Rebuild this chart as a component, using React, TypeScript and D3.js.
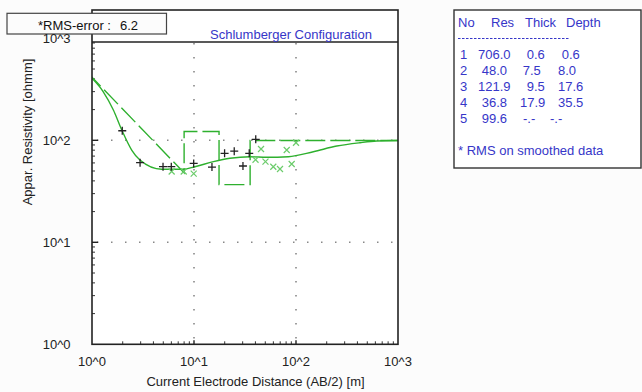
import * as d3 from "d3";

// layer model (from the table)
const layerNo = [1, 2, 3, 4, 5];
const layerRes = [706.0, 48.0, 121.9, 36.8, 99.6];
const layerThick = ["0.6", "7.5", "9.5", "17.9", "-.-"];
const layerDepthLabel = ["0.6", "8.0", "17.6", "35.5", "-.-"];
const layerDepth = [0.6, 8.0, 17.6, 35.5];

// model response curve (AB/2, rho)
const curveX = [1, 1.29, 1.62, 1.96, 2.45, 2.95, 4.82, 7.85, 10.2, 15.5, 22.5, 35.4, 51.6, 84.1, 148, 251, 424, 618, 1000];
const curveY = [405, 299, 198, 126, 80.3, 64.1, 52, 52, 55.1, 61.7, 66.6, 69.0, 68.1, 69.0, 77.3, 87.9, 94.7, 98.4, 99.6];

// observed data (+)
const obsX = [1.98, 2.96, 4.97, 5.99, 9.93, 15.0, 19.95, 24.8, 30.2, 34.8, 40.3];
const obsY = [124, 60.3, 55.1, 55.1, 59.3, 54.7, 74.6, 78.2, 56.0, 74.6, 102.3];

// smoothed data (x)
const smX = [6.04, 7.93, 9.93, 40.1, 45.4, 50.2, 59.9, 69.7, 81.1, 90.7, 100];
const smY = [49.4, 49.4, 47.1, 64.5, 82.2, 61.7, 55.1, 52.3, 80.3, 58.6, 94.7];

const decadeTicks = [1, 10, 100, 1000];
const tickLabels = ["10^0", "10^1", "10^2", "10^3"];

const W = 642;
const H = 392;
const FONT = "'Liberation Sans', Arial, sans-serif";
const FS = 13;
const BLUE = "#3636c8";
const GREEN = "#2eb02e";
const LIGHT_GREEN = "#6ccc6c";

export default function App() {
  const left = 92, right = 398, top = 42, bottom = 344.3;
  const x = d3.scaleLog().domain([1, 1000]).range([left, right]);
  const y = d3.scaleLog().domain([1, 1000]).range([bottom, 38.3]);

  const minors: number[] = [];
  for (let d = 0; d < 3; d++) for (let k = 2; k <= 9; k++) minors.push(k * Math.pow(10, d));

  const curvePts = curveX.map((v, i) => [v, curveY[i]] as [number, number]);
  const curvePath = d3
    .line<[number, number]>()
    .x((d) => x(d[0]))
    .y((d) => y(d[1]))
    .curve(d3.curveMonotoneX)(curvePts);

  // model line: diagonal from first layer into second, then steps
  const modelPts: [number, number][] = [
    [layerDepth[0], layerRes[0]],
    [layerDepth[1], layerRes[1]],
    [layerDepth[1], layerRes[2]],
    [layerDepth[2], layerRes[2]],
    [layerDepth[2], layerRes[3]],
    [layerDepth[3], layerRes[3]],
    [layerDepth[3], layerRes[4]],
    [1000, layerRes[4]],
  ];
  const modelPath = d3
    .line<[number, number]>()
    .x((d) => x(d[0]))
    .y((d) => y(d[1]))(modelPts);

  const rows = [54.3, 70.7, 86.7, 102.7, 118.3];
  const resX = [478, 481.7, 478, 481.7, 481.7];
  const thickX = [526.7, 522.7, 526.7, 520, 523];
  const depthX = [561.7, 558, 558, 558, 550];

  return (
    <svg
      width={W}
      height={H}
      style={{ position: "absolute", left: 0, top: 0, background: "#fcfcfc" }}
      fontFamily={FONT}
    >
      <defs>
        <clipPath id="plotClip">
          <rect x={left} y={top} width={right - left} height={bottom - top} />
        </clipPath>
      </defs>
      <rect x={left} y={10} width={right - left} height={bottom - 10} fill="#fff" />

      {/* dotted grid */}
      {[10, 100].map((v) => (
        <g key={"g" + v}>
          <line x1={x(v)} x2={x(v)} y1={top + 1} y2={bottom} stroke="#888" strokeWidth={1.6} strokeDasharray="1.5 12.5" />
          <line x1={left + 5} x2={right} y1={y(v)} y2={y(v)} stroke="#888" strokeWidth={1.6} strokeDasharray="1.5 12.5" />
        </g>
      ))}

      {/* ticks */}
      {minors.map((v) => (
        <g key={"m" + v} stroke="#333" strokeWidth={1}>
          {y(v) > top && <line x1={left} x2={left + 3} y1={y(v)} y2={y(v)} />}
          <line x1={x(v)} x2={x(v)} y1={bottom} y2={bottom - 3} />
        </g>
      ))}
      {[10, 100].map((v) => (
        <g key={"M" + v} stroke="#222" strokeWidth={1.4}>
          <line x1={left} x2={left + 6} y1={y(v)} y2={y(v)} />
          <line x1={x(v)} x2={x(v)} y1={bottom} y2={bottom - 4} />
        </g>
      ))}

      {/* data */}
      <g clipPath="url(#plotClip)">
        <path d={modelPath ?? ""} fill="none" stroke={GREEN} strokeWidth={1.4} strokeDasharray="20 5" />
        <path d={curvePath ?? ""} fill="none" stroke={GREEN} strokeWidth={1.4} />
        {smX.map((v, i) => (
          <path
            key={"s" + i}
            transform={`translate(${x(v)},${y(smY[i])})`}
            d="M-3,-3L3,3M-3,3L3,-3"
            stroke={LIGHT_GREEN}
            strokeWidth={1.2}
          />
        ))}
        {obsX.map((v, i) => (
          <path
            key={"o" + i}
            transform={`translate(${x(v)},${y(obsY[i])})`}
            d="M-4,0L4,0M0,-4L0,4"
            stroke="#222"
            strokeWidth={1.3}
          />
        ))}
      </g>

      {/* frame */}
      <rect x={left} y={10} width={right - left} height={bottom - 10} fill="none" stroke="#222" strokeWidth={1.6} />
      <line x1={left} x2={right} y1={top} y2={top} stroke="#222" strokeWidth={1.6} />

      {/* RMS box */}
      <rect x={7} y={13.3} width={159.5} height={20.7} fill="#fcfcfc" stroke="#444" strokeWidth={1.2} />
      <text x={38} y={25} dominantBaseline="central" fontSize={FS} fill="#111">*RMS-error :</text>
      <text x={120} y={25} dominantBaseline="central" fontSize={FS} fill="#111">6.2</text>

      <text x={291} y={34.5} textAnchor="middle" dominantBaseline="central" fontSize={FS} fill={BLUE}>
        Schlumberger Configuration
      </text>

      {/* tick labels */}
      {decadeTicks.map((v, i) => (
        <g key={"t" + v} fontSize={FS} fill="#222">
          <text x={70.5} y={y(v) + 0.5} textAnchor="end" dominantBaseline="central">{tickLabels[i]}</text>
          <text x={x(v)} y={361.5} textAnchor="middle" dominantBaseline="central">{tickLabels[i]}</text>
        </g>
      ))}
      <text x={255.5} y={381} textAnchor="middle" dominantBaseline="central" fontSize={FS} fill="#222">
        Current Electrode Distance (AB/2) [m]
      </text>
      <text
        transform="translate(27,132) rotate(-90)"
        textAnchor="middle"
        dominantBaseline="central"
        fontSize={FS}
        fill="#222"
      >
        Appar. Resistivity [ohmm]
      </text>

      {/* layer table */}
      <rect x={454} y={10} width={187} height={158} fill="#fff" stroke="#333" strokeWidth={1.4} />
      <g fontSize={FS} fill={BLUE}>
        <text x={458} y={22.7} dominantBaseline="central">No</text>
        <text x={491} y={22.7} dominantBaseline="central">Res</text>
        <text x={525} y={22.7} dominantBaseline="central">Thick</text>
        <text x={566} y={22.7} dominantBaseline="central">Depth</text>
        <line x1={458} x2={569} y1={38.5} y2={38.5} stroke={BLUE} strokeWidth={1} strokeDasharray="2.5 1.5" />
        {layerNo.map((n, i) => (
          <g key={"r" + n}>
            <text x={460} y={rows[i]} dominantBaseline="central">{n}</text>
            <text x={resX[i]} y={rows[i]} dominantBaseline="central">{layerRes[i].toFixed(1)}</text>
            <text x={thickX[i]} y={rows[i]} dominantBaseline="central">{layerThick[i]}</text>
            <text x={depthX[i]} y={rows[i]} dominantBaseline="central">{layerDepthLabel[i]}</text>
          </g>
        ))}
        <text x={458} y={150} dominantBaseline="central">* RMS on smoothed data</text>
      </g>
    </svg>
  );
}
